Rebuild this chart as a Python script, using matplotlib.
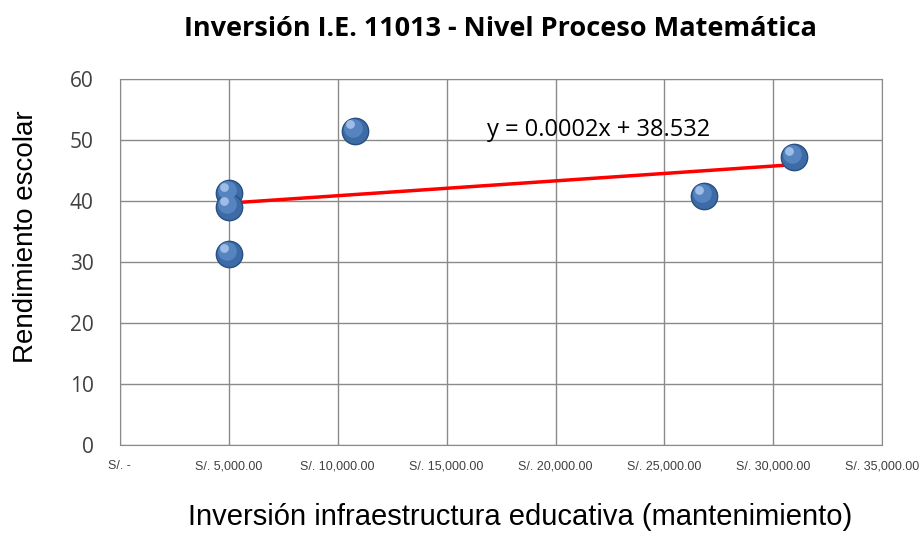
import numpy as np
import matplotlib
matplotlib.use('Agg')
import matplotlib.pyplot as plt
from matplotlib.ticker import FuncFormatter

inversion = [5000, 5000, 5000, 10780, 26835, 30960]
rendimiento = [41.3, 39.0, 31.3, 51.5, 40.8, 47.2]
x_ticks = [0, 5000, 10000, 15000, 20000, 25000, 30000, 35000]
y_ticks = [0, 10, 20, 30, 40, 50, 60]
ecuacion = 'y = 0.0002x + 38.532'

fig = plt.figure(figsize=(9.22, 5.35), dpi=100)
ax = fig.add_axes([0.130, 0.168, 0.827, 0.684])

x = np.array(inversion, dtype=float)
y = np.array(rendimiento)
m, b = np.polyfit(x, y, 1)
xs = np.array([x.min(), x.max()])
ax.plot(xs, m * xs + b, color='red', lw=2.5, zorder=3)

# sphere-like markers
ax.scatter(x, y, s=360, color='#3c6ba5', edgecolor='#2a4f80', lw=1, zorder=4)
ax.scatter(x - 100, y + 0.5, s=180, color='#5584c0', lw=0, zorder=5)
ax.scatter(x - 230, y + 1.1, s=40, color='#9dbde6', lw=0, zorder=6)

ax.set_xlim(0, 35000)
ax.set_ylim(0, 60)
ax.set_xticks(x_ticks)
ax.set_yticks(y_ticks)
ax.xaxis.set_major_formatter(FuncFormatter(lambda v, p: 'S/. -' if v == 0 else f'S/. {v:,.2f}'))
ax.grid(True, color='#8a8a8a', lw=1)
ax.set_axisbelow(True)
for s in ax.spines.values():
    s.set_color('#8a8a8a')
ax.tick_params(length=0, labelcolor='#404040')
ax.tick_params(axis='x', pad=11, labelsize=9)
ax.tick_params(axis='y', pad=19, labelsize=15)
for lab in ax.get_xticklabels():
    lab.set_family(['Liberation Sans Narrow', 'Liberation Sans', 'DejaVu Sans'])
for lab in ax.get_yticklabels():
    lab.set_family('Open Sans')

ax.text(16835, 51.6, ecuacion, fontsize=17, family='Open Sans', va='center', ha='left')

fig.text(0.543, 0.945, 'Inversión I.E. 11013 - Nivel Proceso Matemática', ha='center', va='center',
         fontsize=19.5, fontweight='bold', family='Open Sans')
fig.text(0.028, 0.557, 'Rendimiento escolar', rotation=90, ha='center', va='center',
         fontsize=20, family='Liberation Sans')
fig.text(0.564, 0.034, 'Inversión infraestructura educativa (mantenimiento)', ha='center', va='center',
         fontsize=21, family='Liberation Sans')

fig.savefig('out.png', dpi=100)
